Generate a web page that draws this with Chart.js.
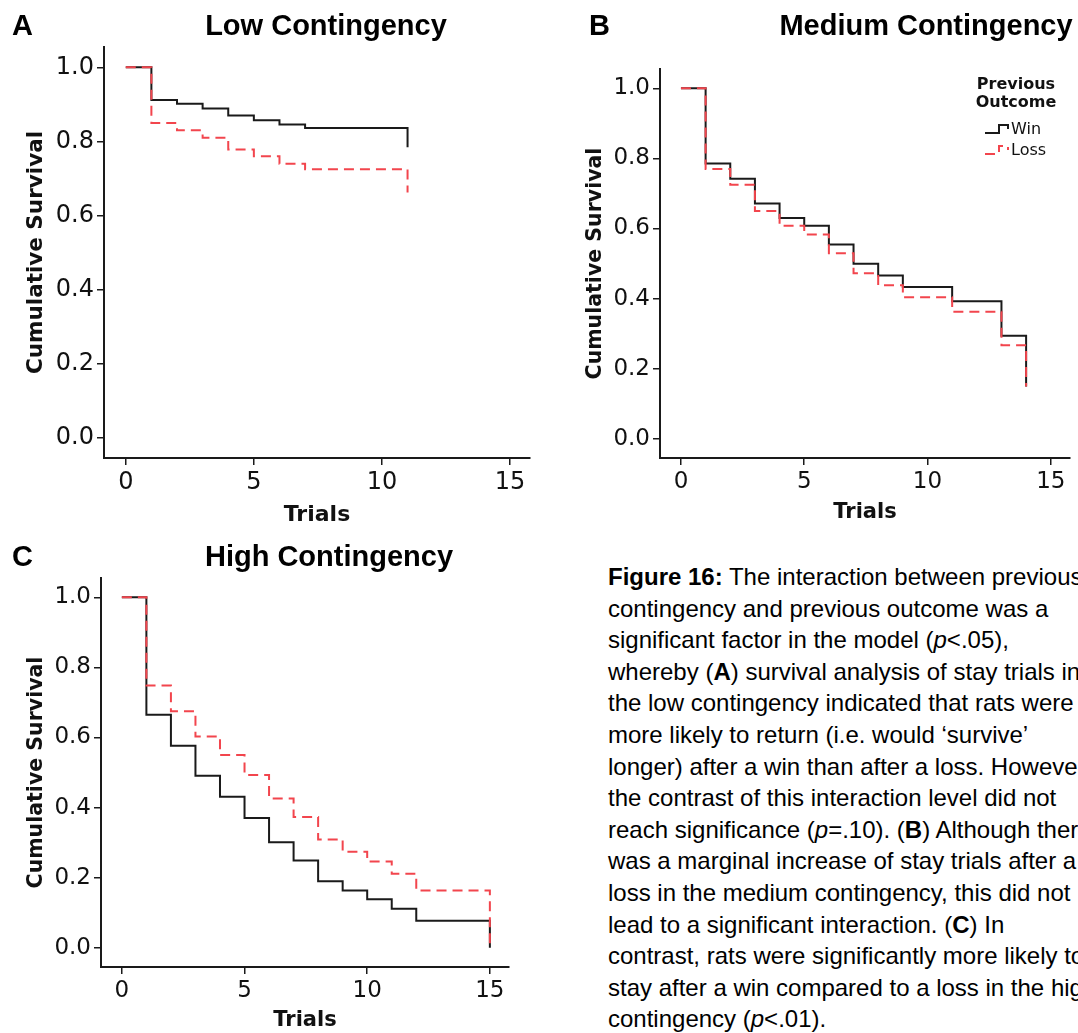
<!DOCTYPE html>
<html lang="en">
<head>
<meta charset="UTF-8">
<title>Stay trials survival by contingency</title>
<script src="https://cdn.jsdelivr.net/npm/chart.js"></script>
<style>
    body {
        margin: 0;
        width: 1078px;
        height: 1033px;
        overflow: hidden;
        position: relative;
        background: #fff;
        font-family: "Liberation Sans", Arial, sans-serif;
        color: #000;
    }
    canvas { position: absolute; }
    .letter, .title {
        position: absolute;
        font-weight: bold;
        font-size: 29px;
        line-height: 29px;
        white-space: nowrap;
    }
    .title {
        width: 400px;
        margin-left: -200px;
        text-align: center;
    }
    .caption {
        position: absolute;
        left: 608px;
        top: 561px;
        font-size: 24px;
        line-height: 31.6px;
        white-space: nowrap;
    }
</style>
</head>
<body>
    <canvas id="lowChart" width="545" height="504" style="left:0; top:26px;"></canvas>
    <canvas id="mediumChart" width="518" height="490" style="left:560px; top:40px;"></canvas>
    <canvas id="highChart" width="545" height="473" style="left:0; top:560px;"></canvas>

    <div class="letter" style="left:12px; top:11px;">A</div>
    <div class="title" style="left:326px; top:11px;">Low Contingency</div>
    <div class="letter" style="left:589px; top:11px;">B</div>
    <div class="title" style="left:926px; top:11px;">Medium Contingency</div>
    <div class="letter" style="left:12px; top:542px;">C</div>
    <div class="title" style="left:329px; top:542px;">High Contingency</div>

    <div class="caption">
        <div><b>Figure 16:</b> The interaction between previous</div>
        <div>contingency and previous outcome was a</div>
        <div>significant factor in the model (<i>p</i>&lt;.05),</div>
        <div>whereby (<b>A</b>) survival analysis of stay trials in</div>
        <div>the low contingency indicated that rats were</div>
        <div>more likely to return (i.e. would ‘survive’</div>
        <div>longer) after a win than after a loss. However,</div>
        <div>the contrast of this interaction level did not</div>
        <div>reach significance (<i>p</i>=.10). (<b>B</b>) Although there</div>
        <div>was a marginal increase of stay trials after a</div>
        <div>loss in the medium contingency, this did not</div>
        <div>lead to a significant interaction. (<b>C</b>) In</div>
        <div>contrast, rats were significantly more likely to</div>
        <div>stay after a win compared to a loss in the high</div>
        <div>contingency (<i>p</i>&lt;.01).</div>
    </div>

    <script>
        // Kaplan-Meier estimates: trial at which each step happens, survival after it
        const lowTrials = [0, 1, 2, 3, 4, 5, 6, 7, 11];
        const lowWin = [1, 0.912, 0.902, 0.889, 0.870, 0.857, 0.846, 0.836, 0.784];
        const lowLoss = [1, 0.850, 0.830, 0.810, 0.778, 0.760, 0.740, 0.725, 0.662];

        const mediumTrials = [0, 1, 2, 3, 4, 5, 6, 7, 8, 9, 11, 13, 14];
        const mediumWin = [1, 0.785, 0.742, 0.671, 0.630, 0.608, 0.554, 0.499, 0.466, 0.433, 0.392, 0.294, 0.149];
        const mediumLoss = [1, 0.770, 0.725, 0.650, 0.608, 0.583, 0.529, 0.472, 0.438, 0.404, 0.362, 0.267, 0.149];

        const highTrials = [0, 1, 2, 3, 4, 5, 6, 7, 8, 9, 10, 11, 12, 15];
        const highWin = [1, 0.665, 0.576, 0.491, 0.431, 0.370, 0.301, 0.249, 0.190, 0.163, 0.138, 0.111, 0.077, 0];
        const highLoss = [1, 0.748, 0.675, 0.603, 0.550, 0.493, 0.426, 0.373, 0.309, 0.274, 0.246, 0.211, 0.163, 0];

        const xTicks = [0, 5, 10, 15];
        const yTicks = [0, 0.2, 0.4, 0.6, 0.8, 1.0];
        const seriesNames = ['Win', 'Loss'];
        const legendTitle = ['Previous', 'Outcome'];

        const INK = '#1a1a1a';
        const LOSS_RED = '#f2454d';

        Chart.defaults.font.family = "'DejaVu Sans', sans-serif";
        Chart.defaults.color = '#111';

        function points(trials, values) {
            return trials.map((t, i) => ({ x: t, y: values[i] }));
        }

        // legend drawn inside the plot, top right, with little step icons
        const outcomeLegend = {
            id: 'outcomeLegend',
            afterDraw(chart) {
                const { ctx, chartArea } = chart;
                const right = chartArea.right;
                const top = chartArea.top;
                ctx.save();
                ctx.fillStyle = '#111';
                ctx.textBaseline = 'middle';
                ctx.textAlign = 'center';
                ctx.font = "bold 16px 'DejaVu Sans'";
                legendTitle.forEach((line, i) => ctx.fillText(line, right - 54, top + 16 + i * 18));

                ctx.font = "16px 'DejaVu Sans'";
                ctx.textAlign = 'left';
                chart.data.datasets.forEach((ds, i) => {
                    const y = top + 61 + i * 21;
                    ctx.strokeStyle = ds.borderColor;
                    ctx.lineWidth = 2;
                    ctx.setLineDash(ds.borderDash || []);
                    ctx.beginPath();
                    ctx.moveTo(right - 85, y + 3);
                    ctx.lineTo(right - 71, y + 3);
                    ctx.lineTo(right - 71, y - 5);
                    ctx.lineTo(right - 62, y - 5);
                    ctx.lineTo(right - 62, y - 1);
                    ctx.stroke();
                    ctx.setLineDash([]);
                    ctx.fillText(ds.label, right - 59, y);
                });
                ctx.restore();
            }
        };

        function survivalChart(id, trials, win, loss, box, extra) {
            const axisGrid = {
                display: true,
                drawOnChartArea: false,
                drawTicks: true,
                tickLength: 7,
                color: INK,
                lineWidth: 1.5
            };
            const axisBorder = { display: true, color: INK, width: 2 };

            return new Chart(document.getElementById(id), {
                type: 'line',
                data: {
                    datasets: [{
                        label: seriesNames[0],
                        data: points(trials, win),
                        borderColor: INK,
                        borderWidth: 2,
                        stepped: true,
                        pointRadius: 0,
                        fill: false,
                        order: 1
                    }, {
                        label: seriesNames[1],
                        data: points(trials, loss),
                        borderColor: LOSS_RED,
                        borderWidth: 2,
                        borderDash: [10, 6],
                        stepped: true,
                        pointRadius: 0,
                        fill: false,
                        order: 0
                    }]
                },
                options: {
                    responsive: false,
                    animation: false,
                    layout: { padding: { left: 0, top: box.padTop, right: box.padRight, bottom: 0 } },
                    plugins: {
                        legend: { display: false },
                        tooltip: { enabled: false }
                    },
                    scales: {
                        x: {
                            type: 'linear',
                            min: -0.85,
                            max: 15.78,
                            afterBuildTicks: s => { s.ticks = xTicks.map(v => ({ value: v })); },
                            afterFit: s => { s.height = box.xHeight; },
                            ticks: {
                                font: { size: box.tickSize },
                                color: '#111',
                                padding: 3,
                                maxRotation: 0,
                                callback: v => String(v)
                            },
                            grid: axisGrid,
                            border: axisBorder,
                            title: {
                                display: true,
                                text: 'Trials',
                                color: '#111',
                                font: { size: box.xTitleSize, weight: 'bold' },
                                padding: { top: 0, bottom: box.xTitlePad }
                            }
                        },
                        y: {
                            type: 'linear',
                            min: -0.055,
                            max: 1.055,
                            afterBuildTicks: s => { s.ticks = yTicks.map(v => ({ value: v })); },
                            afterFit: s => { s.width = box.yWidth; },
                            ticks: {
                                font: { size: box.tickSize },
                                color: '#111',
                                padding: 3,
                                callback: v => v.toFixed(1)
                            },
                            grid: axisGrid,
                            border: axisBorder,
                            title: {
                                display: true,
                                text: 'Cumulative Survival',
                                color: '#111',
                                font: { size: box.yTitleSize, weight: 'bold' },
                                padding: { top: box.yTitlePad, bottom: 0 }
                            }
                        }
                    }
                },
                plugins: extra || []
            });
        }

        survivalChart('lowChart', lowTrials, lowWin, lowLoss, {
            yWidth: 104, xHeight: 72, padTop: 21, padRight: 15, xTitlePad: 2, yTitlePad: 24,
            tickSize: 24, xTitleSize: 22, yTitleSize: 21.5
        });
        survivalChart('mediumChart', mediumTrials, mediumWin, mediumLoss, {
            yWidth: 100, xHeight: 72, padTop: 29, padRight: 8, xTitlePad: 5, yTitlePad: 23,
            tickSize: 23, xTitleSize: 21, yTitleSize: 20.5
        }, [outcomeLegend]);
        survivalChart('highChart', highTrials, highWin, highLoss, {
            yWidth: 101, xHeight: 66, padTop: 18, padRight: 36, xTitlePad: 0, yTitlePad: 24,
            tickSize: 23, xTitleSize: 21, yTitleSize: 20.5
        });
    </script>
</body>
</html>
